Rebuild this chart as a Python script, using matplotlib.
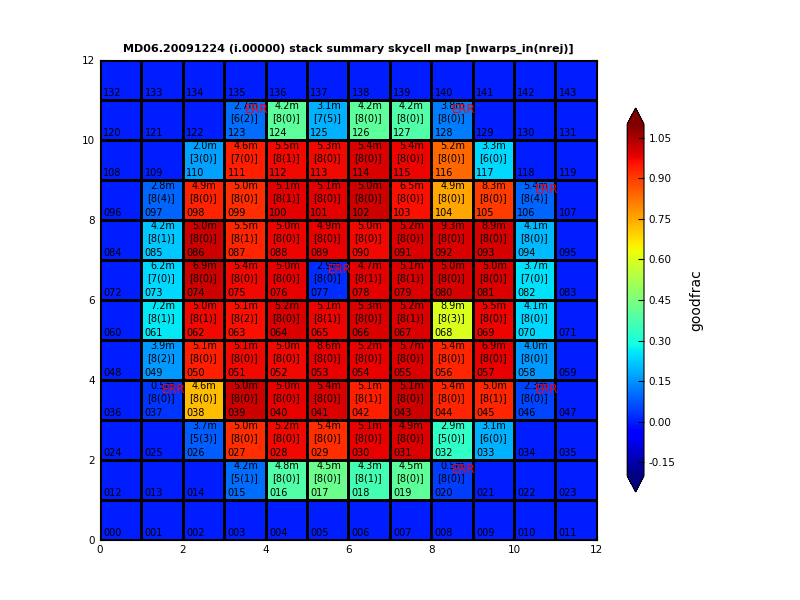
import matplotlib
matplotlib.use('agg')
import matplotlib.pyplot as plt
import numpy as np

title = "MD06.20091224 (i.00000) stack summary skycell map [nwarps_in(nrej)]"
ncols = 12
nrows = 12

# skycells with stack data
cells = [15, 16, 17, 18, 19, 20,
         26, 27, 28, 29, 30, 31, 32, 33,
         37, 38, 39, 40, 41, 42, 43, 44, 45, 46,
         49, 50, 51, 52, 53, 54, 55, 56, 57, 58,
         61, 62, 63, 64, 65, 66, 67, 68, 69, 70,
         73, 74, 75, 76, 77, 78, 79, 80, 81, 82,
         85, 86, 87, 88, 89, 90, 91, 92, 93, 94,
         97, 98, 99, 100, 101, 102, 103, 104, 105, 106,
         110, 111, 112, 113, 114, 115, 116, 117,
         123, 124, 125, 126, 127, 128]
exptime = [4.2, 4.8, 4.5, 4.3, 4.5, 0.5,
           3.7, 5.0, 5.2, 5.4, 5.1, 4.9, 2.9, 3.1,
           0.5, 4.6, 5.0, 5.0, 5.4, 5.1, 5.1, 5.4, 5.0, 2.3,
           3.9, 5.1, 5.1, 5.0, 8.6, 5.2, 5.7, 5.4, 6.9, 4.0,
           7.2, 5.0, 5.1, 5.2, 5.1, 5.3, 5.2, 8.9, 5.5, 4.1,
           6.2, 6.9, 5.4, 5.0, 2.9, 4.7, 5.1, 5.0, 5.0, 3.7,
           4.2, 5.0, 5.5, 5.0, 4.9, 5.0, 5.2, 9.3, 8.9, 4.1,
           2.8, 4.9, 5.0, 5.1, 5.1, 5.0, 6.5, 4.9, 8.3, 5.4,
           2.0, 4.6, 5.5, 5.3, 5.4, 5.4, 5.2, 3.3,
           2.7, 4.2, 3.1, 4.2, 4.2, 3.8]
nwarps = [5, 8, 8, 8, 8, 8,
          5, 8, 8, 8, 8, 8, 5, 6,
          8, 8, 8, 8, 8, 8, 8, 8, 8, 8,
          8, 8, 8, 8, 8, 8, 8, 8, 8, 8,
          8, 8, 8, 8, 8, 8, 8, 8, 8, 8,
          7, 8, 8, 8, 8, 8, 8, 8, 8, 7,
          8, 8, 8, 8, 8, 8, 8, 8, 8, 8,
          8, 8, 8, 8, 8, 8, 8, 8, 8, 8,
          3, 7, 8, 8, 8, 8, 8, 6,
          6, 8, 7, 8, 8, 8]
nrej = [1, 0, 0, 1, 0, 0,
        3, 0, 0, 0, 0, 0, 0, 0,
        0, 0, 0, 0, 0, 1, 0, 0, 1, 0,
        2, 0, 0, 0, 0, 0, 0, 0, 0, 0,
        1, 1, 2, 0, 1, 0, 1, 3, 0, 0,
        0, 0, 0, 0, 0, 1, 1, 0, 0, 0,
        1, 0, 1, 0, 0, 0, 0, 0, 0, 0,
        4, 0, 0, 1, 0, 0, 0, 0, 0, 4,
        0, 0, 1, 0, 0, 0, 0, 0,
        2, 0, 5, 0, 0, 0]
goodfrac = [0.10, 0.38, 0.42, 0.36, 0.40, 0.04,
            0.08, 0.92, 0.97, 0.92, 0.98, 0.995, 0.33, 0.19,
            0.03, 0.72, 1.01, 0.98, 0.995, 0.94, 1.01, 0.93, 0.93, 0.05,
            0.16, 0.94, 0.97, 0.97, 0.98, 0.98, 0.995, 0.93, 0.98, 0.16,
            0.26, 0.97, 0.96, 0.995, 0.975, 0.995, 0.995, 0.60, 0.975, 0.24,
            0.24, 1.01, 0.97, 0.98, 0.02, 0.985, 0.995, 1.0, 0.995, 0.25,
            0.22, 1.01, 0.93, 0.975, 0.98, 0.97, 0.995, 0.995, 1.0, 0.20,
            0.09, 0.935, 0.92, 0.985, 0.985, 1.01, 0.96, 0.75, 0.90, 0.09,
            0.17, 0.94, 0.97, 0.97, 0.995, 0.975, 0.84, 0.24,
            0.10, 0.40, 0.19, 0.40, 0.38, 0.12]
err_cells = [20, 37, 46, 77, 106, 123, 128]

cb_ticks = [-0.15, 0.00, 0.15, 0.30, 0.45, 0.60, 0.75, 0.90, 1.05]

grid = np.zeros((nrows, ncols))
for c, g in zip(cells, goodfrac):
    grid[c // ncols, c % ncols] = g

fig = plt.figure(figsize=(8, 6), dpi=100)
ax = fig.add_axes([0.125, 0.1, 0.621, 0.8])

mesh = ax.pcolormesh(np.arange(ncols + 1), np.arange(nrows + 1), grid,
                     cmap='jet', vmin=-0.2, vmax=1.1,
                     edgecolors='k', linewidth=2)

for i in range(nrows * ncols):
    x = i % ncols
    y = i // ncols
    ax.text(x + 0.08, y + 0.1, "%03d" % i, fontsize=7, ha='left', va='baseline')

for c, t, n, r in zip(cells, exptime, nwarps, nrej):
    x = c % ncols
    y = c // ncols
    ax.text(x + 0.52, y + 0.86, "%.1fm" % t, fontsize=7, ha='center', va='center')
    ax.text(x + 0.48, y + 0.55, "[%d(%d)]" % (n, r), fontsize=7, ha='center', va='center')
    if c in err_cells:
        ax.text(x + 0.5, y + 0.76, "ERR", fontsize=8.5, color='red', ha='left', va='center')

ax.set_xlim(0, ncols)
ax.set_ylim(0, nrows)
ax.set_xticks(range(0, ncols + 1, 2))
ax.set_yticks(range(0, nrows + 1, 2))
ax.tick_params(labelsize=7.5, direction='in', top=True, right=True)
ax.set_title(title, fontsize=8, fontweight='bold')

cax = fig.add_axes([0.784, 0.18, 0.021, 0.64])
cb = fig.colorbar(mesh, cax=cax, extend='both', ticks=cb_ticks, extendfrac=0.046)
cb.ax.tick_params(labelsize=7.5, direction='in', length=4)
cb.ax.set_yticklabels(["%.2f" % v for v in cb_ticks])
cb.set_label('goodfrac', fontsize=10, labelpad=10)

fig.savefig('out.png', dpi=100)
